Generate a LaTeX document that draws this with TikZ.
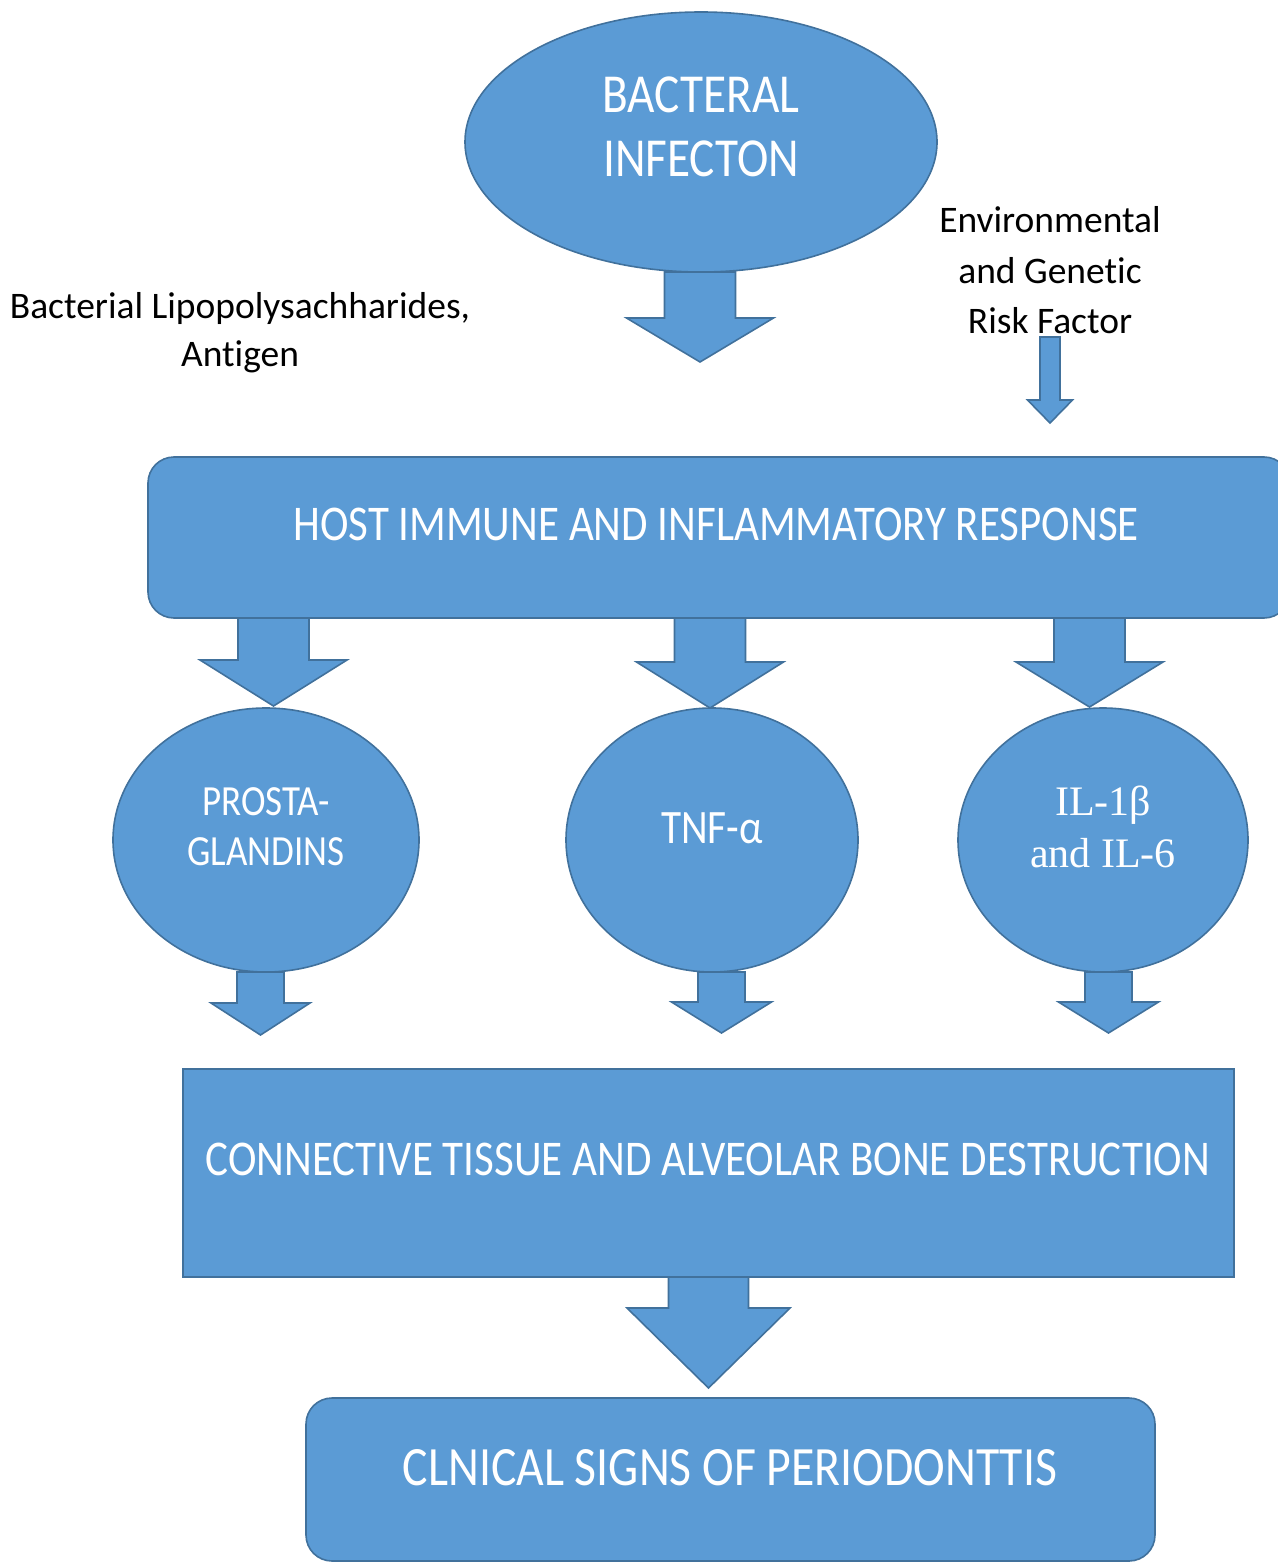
\documentclass[tikz,border=0pt]{standalone}
\usepackage{fontspec}
\setmainfont{Carlito}[Ligatures=NoCommon]
\newfontfamily\cond{Carlito}[FakeStretch=0.86,Ligatures=NoCommon]
\newfontfamily\tms{Liberation Serif}
\usetikzlibrary{shapes.geometric}
\definecolor{bfill}{HTML}{5B9BD5}
\definecolor{bline}{HTML}{41719C}
\tikzset{
  shp/.style={fill=bfill,draw=bline,line width=1.6pt},
  oval/.style={shp,ellipse,inner sep=0pt},
  wt/.style={text=white,inner sep=0pt,anchor=base},
  bk/.style={text=black,inner sep=0pt,anchor=base,font=\fontsize{37.5}{37.5}\selectfont},
}
% block arrow: #1 x centre, #2 y top, #3 y head base, #4 y tip, #5 shaft half, #6 head half
\newcommand\blockarrow[6]{%
  \draw[shp,line join=miter] (#1-#5,#2) -- (#1+#5,#2) -- (#1+#5,#3) -- (#1+#6,#3) -- (#1,#4)
     -- (#1-#6,#3) -- (#1-#5,#3) -- cycle;}
\begin{document}
\begin{tikzpicture}[x=1pt,y=-1pt]
\useasboundingbox (0,0) rectangle (1277,1562);
% top ellipse
\node[oval,minimum width=472pt,minimum height=260pt] (bact) at (701,142) {};
\node[wt,font=\cond\fontsize{55}{55}\selectfont] (bact1) at (701,113) {BACTERAL};
\node[wt,font=\cond\fontsize{55}{55}\selectfont] (bact2) at (701,177) {INFECTON};
\blockarrow{700}{272}{318}{362}{35.5}{73.5}
% side texts
\node[bk] (lps1) at (240,318) {Bacterial Lipopolysachharides,};
\node[bk] (lps2) at (240,366) {Antigen};
\node[bk] (env1) at (1050,233) {Environmental};
\node[bk] (env2) at (1050,283) {and Genetic};
\node[bk] (env3) at (1050,333) {Risk Factor};
\blockarrow{1050}{337}{400}{423}{10}{22.5}
% host box
\draw[shp,rounded corners=26pt] (148,457) rectangle (1290,618);
\node[wt,font=\cond\fontsize{50}{50}\selectfont] (host) at (716,540) {HOST IMMUNE AND INFLAMMATORY RESPONSE};
\blockarrow{273.5}{618}{660}{706}{35.5}{73.5}
\blockarrow{710}{618}{662}{708}{35.5}{73.5}
\blockarrow{1089.5}{618}{662}{707}{35.5}{73.5}
% mediator ellipses
\node[oval,minimum width=306pt,minimum height=264pt] (pg) at (266,840) {};
\node[oval,minimum width=292pt,minimum height=264pt] (tnf) at (712,840) {};
\node[oval,minimum width=290pt,minimum height=264pt] (il) at (1103,840) {};
\node[wt,font=\cond\fontsize{43}{43}\selectfont] (pg1) at (266,815) {PROSTA-};
\node[wt,font=\cond\fontsize{43}{43}\selectfont] (pg2) at (266,865) {GLANDINS};
\node[wt,font=\cond\fontsize{48}{48}\selectfont] (tnf1) at (712,843) {TNF-α};
\node[wt,font=\tms\fontsize{42}{42}\selectfont] (il1) at (1103,815) {IL-1β};
\node[wt,font=\tms\fontsize{42}{42}\selectfont] (il2) at (1103,867) {and IL-6};
\blockarrow{260.5}{972}{1003}{1035}{23.5}{49.5}
\blockarrow{721.5}{972}{1002}{1033}{23.5}{50}
\blockarrow{1108.5}{972}{1002}{1033}{23.5}{50}
% connective box
\draw[shp] (183,1069) rectangle (1234,1277);
\node[wt,font=\cond\fontsize{50}{50}\selectfont] (ct) at (708,1175) {CONNECTIVE TISSUE AND ALVEOLAR BONE DESTRUCTION};
\blockarrow{708.5}{1277}{1308}{1388}{40}{81.5}
% clinical box
\draw[shp,rounded corners=26pt] (306,1398) rectangle (1155,1561);
\node[wt,font=\cond\fontsize{55.5}{55.5}\selectfont] (cl) at (730,1485) {CLNICAL SIGNS OF PERIODONTTIS};
\end{tikzpicture}
\end{document}
